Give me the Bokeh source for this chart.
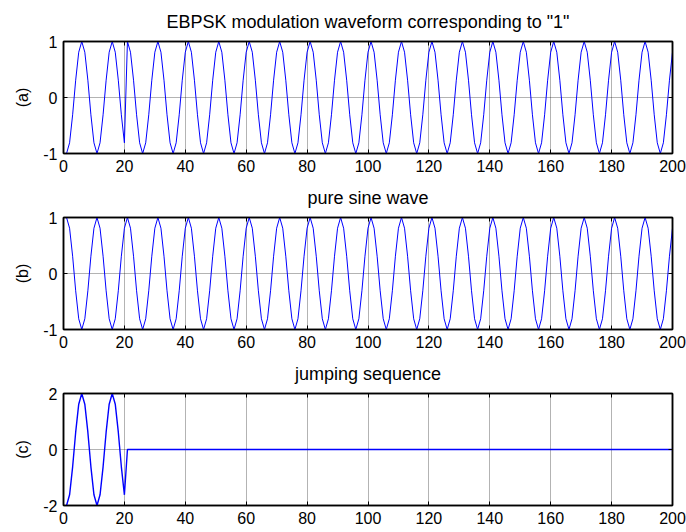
from bokeh.plotting import figure
from bokeh.layouts import column
from bokeh.models import Range1d, FixedTicker, LinearAxis, ColumnDataSource, CustomLabelingPolicy
from bokeh.embed import file_html
from bokeh.resources import INLINE

# sample index
sample = list(range(1, 201))

# (a) EBPSK modulation waveform corresponding to "1"
ebpsk = [
    -1, -0.809, -0.309, 0.309, 0.809, 1, 0.809, 0.309, -0.309, -0.809,
    -1, -0.809, -0.309, 0.309, 0.809, 1, 0.809, 0.309, -0.309, -0.809,
    1, 0.809, 0.309, -0.309, -0.809, -1, -0.809, -0.309, 0.309, 0.809,
    1, 0.809, 0.309, -0.309, -0.809, -1, -0.809, -0.309, 0.309, 0.809,
    1, 0.809, 0.309, -0.309, -0.809, -1, -0.809, -0.309, 0.309, 0.809,
    1, 0.809, 0.309, -0.309, -0.809, -1, -0.809, -0.309, 0.309, 0.809,
    1, 0.809, 0.309, -0.309, -0.809, -1, -0.809, -0.309, 0.309, 0.809,
    1, 0.809, 0.309, -0.309, -0.809, -1, -0.809, -0.309, 0.309, 0.809,
    1, 0.809, 0.309, -0.309, -0.809, -1, -0.809, -0.309, 0.309, 0.809,
    1, 0.809, 0.309, -0.309, -0.809, -1, -0.809, -0.309, 0.309, 0.809,
    1, 0.809, 0.309, -0.309, -0.809, -1, -0.809, -0.309, 0.309, 0.809,
    1, 0.809, 0.309, -0.309, -0.809, -1, -0.809, -0.309, 0.309, 0.809,
    1, 0.809, 0.309, -0.309, -0.809, -1, -0.809, -0.309, 0.309, 0.809,
    1, 0.809, 0.309, -0.309, -0.809, -1, -0.809, -0.309, 0.309, 0.809,
    1, 0.809, 0.309, -0.309, -0.809, -1, -0.809, -0.309, 0.309, 0.809,
    1, 0.809, 0.309, -0.309, -0.809, -1, -0.809, -0.309, 0.309, 0.809,
    1, 0.809, 0.309, -0.309, -0.809, -1, -0.809, -0.309, 0.309, 0.809,
    1, 0.809, 0.309, -0.309, -0.809, -1, -0.809, -0.309, 0.309, 0.809,
    1, 0.809, 0.309, -0.309, -0.809, -1, -0.809, -0.309, 0.309, 0.809,
    1, 0.809, 0.309, -0.309, -0.809, -1, -0.809, -0.309, 0.309, 0.809,
]

# (b) pure sine wave
pure_sine = [
    1, 0.809, 0.309, -0.309, -0.809, -1, -0.809, -0.309, 0.309, 0.809,
    1, 0.809, 0.309, -0.309, -0.809, -1, -0.809, -0.309, 0.309, 0.809,
    1, 0.809, 0.309, -0.309, -0.809, -1, -0.809, -0.309, 0.309, 0.809,
    1, 0.809, 0.309, -0.309, -0.809, -1, -0.809, -0.309, 0.309, 0.809,
    1, 0.809, 0.309, -0.309, -0.809, -1, -0.809, -0.309, 0.309, 0.809,
    1, 0.809, 0.309, -0.309, -0.809, -1, -0.809, -0.309, 0.309, 0.809,
    1, 0.809, 0.309, -0.309, -0.809, -1, -0.809, -0.309, 0.309, 0.809,
    1, 0.809, 0.309, -0.309, -0.809, -1, -0.809, -0.309, 0.309, 0.809,
    1, 0.809, 0.309, -0.309, -0.809, -1, -0.809, -0.309, 0.309, 0.809,
    1, 0.809, 0.309, -0.309, -0.809, -1, -0.809, -0.309, 0.309, 0.809,
    1, 0.809, 0.309, -0.309, -0.809, -1, -0.809, -0.309, 0.309, 0.809,
    1, 0.809, 0.309, -0.309, -0.809, -1, -0.809, -0.309, 0.309, 0.809,
    1, 0.809, 0.309, -0.309, -0.809, -1, -0.809, -0.309, 0.309, 0.809,
    1, 0.809, 0.309, -0.309, -0.809, -1, -0.809, -0.309, 0.309, 0.809,
    1, 0.809, 0.309, -0.309, -0.809, -1, -0.809, -0.309, 0.309, 0.809,
    1, 0.809, 0.309, -0.309, -0.809, -1, -0.809, -0.309, 0.309, 0.809,
    1, 0.809, 0.309, -0.309, -0.809, -1, -0.809, -0.309, 0.309, 0.809,
    1, 0.809, 0.309, -0.309, -0.809, -1, -0.809, -0.309, 0.309, 0.809,
    1, 0.809, 0.309, -0.309, -0.809, -1, -0.809, -0.309, 0.309, 0.809,
    1, 0.809, 0.309, -0.309, -0.809, -1, -0.809, -0.309, 0.309, 0.809,
]

# (c) jumping sequence
jumping = [
    -2, -1.618, -0.618, 0.618, 1.618, 2, 1.618, 0.618, -0.618, -1.618,
    -2, -1.618, -0.618, 0.618, 1.618, 2, 1.618, 0.618, -0.618, -1.618,
    0, 0, 0, 0, 0, 0, 0, 0, 0, 0,
    0, 0, 0, 0, 0, 0, 0, 0, 0, 0,
    0, 0, 0, 0, 0, 0, 0, 0, 0, 0,
    0, 0, 0, 0, 0, 0, 0, 0, 0, 0,
    0, 0, 0, 0, 0, 0, 0, 0, 0, 0,
    0, 0, 0, 0, 0, 0, 0, 0, 0, 0,
    0, 0, 0, 0, 0, 0, 0, 0, 0, 0,
    0, 0, 0, 0, 0, 0, 0, 0, 0, 0,
    0, 0, 0, 0, 0, 0, 0, 0, 0, 0,
    0, 0, 0, 0, 0, 0, 0, 0, 0, 0,
    0, 0, 0, 0, 0, 0, 0, 0, 0, 0,
    0, 0, 0, 0, 0, 0, 0, 0, 0, 0,
    0, 0, 0, 0, 0, 0, 0, 0, 0, 0,
    0, 0, 0, 0, 0, 0, 0, 0, 0, 0,
    0, 0, 0, 0, 0, 0, 0, 0, 0, 0,
    0, 0, 0, 0, 0, 0, 0, 0, 0, 0,
    0, 0, 0, 0, 0, 0, 0, 0, 0, 0,
    0, 0, 0, 0, 0, 0, 0, 0, 0, 0,
]

titles = ['EBPSK modulation waveform corresponding to "1"', "pure sine wave", "jumping sequence"]
ylabels = ["(a)", "(b)", "(c)"]
x_ticks = [0, 20, 40, 60, 80, 100, 120, 140, 160, 180, 200]
y_ticks_list = [[-1, 0, 1], [-1, 0, 1], [-2, 0, 2]]
y_tick_labels = [{-1: "-1"}, {-1: "-1"}, {-2: "-2"}]
y_limits = [(-1, 1), (-1, 1), (-2, 2)]
series = [ebpsk, pure_sine, jumping]

FONT = "Liberation Sans"
TICK_SIZE = "16px"
TITLE_SIZE = "18px"

borders = [(41, 25), (39, 25), (39, 27)]
title_standoffs = [11, 12, 12]
line_widths = [1, 1, 1.4]
FRAME_H = 112

hide_labels = CustomLabelingPolicy(code="""
for (const i of Array.from(indices)) {
    indices.unset(i)
}
return indices
""")


def make_fig(i):
    top, bottom = borders[i]
    p = figure(width=686, height=top + FRAME_H + bottom,
               x_range=Range1d(0, 200), y_range=Range1d(*y_limits[i]),
               output_backend="svg", toolbar_location=None,
               min_border_left=63, min_border_right=14,
               min_border_top=top, min_border_bottom=bottom,
               title=titles[i])
    src = ColumnDataSource(dict(x=sample, y=series[i]))
    p.line("x", "y", source=src, line_color="#0000ff", line_width=line_widths[i])

    p.title.align = "center"
    p.title.text_font = FONT
    p.title.text_font_size = TITLE_SIZE
    p.title.text_font_style = "normal"
    p.title.text_color = "black"
    p.title.standoff = title_standoffs[i]

    p.background_fill_color = "white"
    p.border_fill_color = "white"
    p.outline_line_color = "black"
    p.outline_line_width = 1.5
    p.outline_line_alpha = 1

    # extra box axes for ticks on top and right
    p.add_layout(LinearAxis(), "above")
    p.add_layout(LinearAxis(), "right")

    for ax in p.xaxis:
        ax.ticker = FixedTicker(ticks=x_ticks)
    for ax in p.yaxis:
        ax.ticker = FixedTicker(ticks=y_ticks_list[i])

    for ax in p.axis:
        ax.axis_line_color = "black"
        ax.axis_line_width = 1.5
        ax.major_tick_in = 4
        ax.major_tick_out = 0
        ax.major_tick_line_color = "black"
        ax.minor_tick_line_color = None
        ax.major_label_text_font = FONT
        ax.major_label_text_font_size = TICK_SIZE
        ax.major_label_text_color = "black"

    # bottom / left axes: labelled
    p.below[0].major_label_standoff = 6
    p.left[0].major_label_standoff = 6
    p.left[0].major_label_overrides = y_tick_labels[i]
    p.left[0].axis_label = ylabels[i]
    p.left[0].axis_label_text_font = FONT
    p.left[0].axis_label_text_font_size = TICK_SIZE
    p.left[0].axis_label_text_font_style = "normal"
    p.left[0].axis_label_text_color = "black"
    p.left[0].axis_label_standoff = 9

    # top / right axes: tick marks only
    for ax in (p.above[0], p.right[0]):
        ax.major_label_policy = hide_labels
        ax.major_label_text_font_size = "1px"
        ax.major_label_standoff = 0

    p.xgrid.ticker = FixedTicker(ticks=x_ticks)
    p.ygrid.ticker = FixedTicker(ticks=y_ticks_list[i])
    for g in (p.xgrid, p.ygrid):
        g.grid_line_color = "black"
        g.grid_line_alpha = 0.6
        g.grid_line_dash = "1 1"
        g.grid_line_width = 1
    return p


figs = [make_fig(i) for i in range(3)]
layout = column(*figs, spacing=0)

open("out.html", "w").write(file_html(layout, INLINE))
